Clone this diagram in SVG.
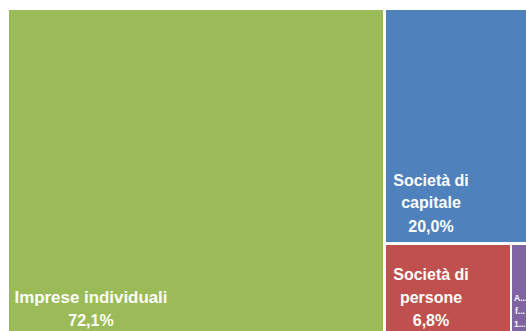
<svg xmlns="http://www.w3.org/2000/svg" width="526" height="331" viewBox="0 0 526 331">
<style>
.lbl{font-family:"Liberation Sans",Arial,sans-serif;font-weight:bold;fill:#ffffff;text-anchor:middle}
.big{font-size:16px}
.small{font-size:8.5px;text-anchor:start}
</style>
<rect width="526" height="331" fill="#ffffff"/>
<g id="imprese-individuali">
<rect x="9" y="10" width="374" height="330" fill="#9BBB59"/>
<text class="lbl big" x="91" y="303" textLength="153" lengthAdjust="spacingAndGlyphs">Imprese individuali</text>
<text class="lbl big" x="91" y="326">72,1%</text>
</g>
<g id="societa-capitale">
<rect x="386" y="10" width="150" height="232" fill="#4F81BD"/>
<text class="lbl big" x="431" y="186">Società di</text>
<text class="lbl big" x="431" y="208">capitale</text>
<text class="lbl big" x="431" y="232">20,0%</text>
</g>
<g id="societa-persone">
<rect x="386" y="245" width="124" height="95" fill="#C0504D"/>
<text class="lbl big" x="431" y="280">Società di</text>
<text class="lbl big" x="431" y="303">persone</text>
<text class="lbl big" x="431" y="326">6,8%</text>
</g>
<g id="altre-forme">
<rect x="512" y="245" width="20" height="95" fill="#8064A2"/>
<text class="lbl small" x="514" y="301">A...</text>
<text class="lbl small" x="515" y="314">f...</text>
<text class="lbl small" x="514" y="327">1...</text>
</g>
<g id="connectors"></g>
</svg>
